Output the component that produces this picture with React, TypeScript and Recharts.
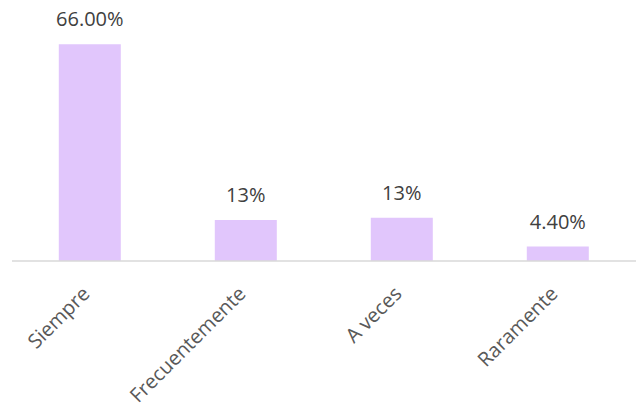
import React from "react";
import { BarChart, Bar, XAxis, YAxis, LabelList } from "recharts";

const categories = ["Siempre", "Frecuentemente", "A veces", "Raramente"];
const values = [66, 12.5, 13.2, 4.4];
const valueLabels = ["66.00%", "13%", "13%", "4.40%"];

const data = categories.map((c, i) => ({ name: c, value: values[i], label: valueLabels[i] }));

const FONT = "'Open Sans', 'DejaVu Sans', sans-serif";

const RotatedTick = (props: any) => {
  const { x, y, payload } = props;
  return (
    <g transform={`translate(${x + 1},${y + 26})`}>
      <text
        x={0}
        y={0}
        transform="rotate(-45)"
        textAnchor="end"
        fontFamily={FONT}
        fontSize={20}
        fill="#595959"
      >
        {payload.value}
      </text>
    </g>
  );
};

const ValueLabel = (props: any) => {
  const { x, y, width, index } = props;
  return (
    <text
      x={x + width / 2}
      y={y - 18}
      textAnchor="middle"
      fontFamily={FONT}
      fontSize={20}
      fill="#404040"
    >
      {valueLabels[index]}
    </text>
  );
};

export default function App() {
  return (
    <div style={{ position: "absolute", left: 0, top: 0, width: 641, height: 411, background: "#fff" }}>
      <BarChart
        width={641}
        height={411}
        data={data}
        margin={{ top: 31, right: 5, bottom: 0, left: 12 }}
        barCategoryGap="30%"
      >
        <YAxis hide domain={[0, 70]} />
        <XAxis
          dataKey="name"
          height={150}
          interval={0}
          tickLine={false}
          axisLine={{ stroke: "#D9D9D9", strokeWidth: 1.5 }}
          tick={<RotatedTick />}
        />
        <Bar dataKey="value" fill="#E1C6FC" isAnimationActive={false}>
          <LabelList dataKey="label" content={<ValueLabel />} />
        </Bar>
      </BarChart>
    </div>
  );
}
